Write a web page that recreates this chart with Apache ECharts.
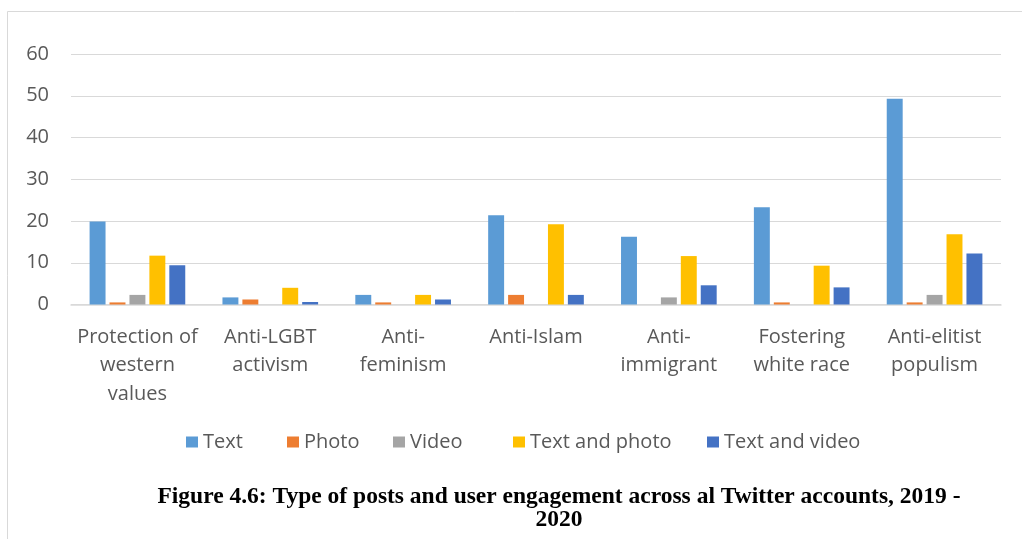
<!DOCTYPE html>
<html>
<head>
<meta charset="utf-8">
<script src="https://cdn.jsdelivr.net/npm/echarts@6/dist/echarts.min.js"></script>
<style>
  html, body { margin: 0; padding: 0; background: #ffffff; }
  #chart { width: 1022px; height: 539px; }
</style>
</head>
<body>
<div id="chart"></div>
<script>
// Themes of posts (x-axis), with manual line breaks for the wrapped labels
const categories = [
  'Protection of\nwestern\nvalues',
  'Anti-LGBT\nactivism',
  'Anti-\nfeminism',
  'Anti-Islam',
  'Anti-\nimmigrant',
  'Fostering\nwhite race',
  'Anti-elitist\npopulism'
];

// Share of posts by type, per theme
const textPosts         = [19.9, 1.7, 2.3, 21.4, 16.2, 23.3, 49.3];
const photoPosts        = [0.5, 1.2, 0.5, 2.3, 0, 0.5, 0.5];
const videoPosts        = [2.3, 0, 0, 0, 1.7, 0, 2.3];
const textAndPhotoPosts = [11.7, 4.0, 2.3, 19.2, 11.6, 9.3, 16.8];
const textAndVideoPosts = [9.4, 0.6, 1.2, 2.3, 4.6, 4.1, 12.2];

const seriesNames  = ['Text', 'Photo', 'Video', 'Text and photo', 'Text and video'];
const seriesValues = [textPosts, photoPosts, videoPosts, textAndPhotoPosts, textAndVideoPosts];
const seriesColors = ['#5B9BD5', '#ED7D31', '#A5A5A5', '#FFC000', '#4472C4'];

// Y-axis ticks
const yMin = 0, yMax = 60, yStep = 10;

const titleText = 'Figure 4.6: Type of posts and user engagement across al Twitter accounts, 2019 -\n2020';

const labelFont = '"Open Sans", Lato, sans-serif';
const labelColor = '#595959';
const legendLefts = [186, 287, 393, 513, 707];

const chart = echarts.init(document.getElementById('chart'), null, { renderer: 'canvas' });

chart.setOption({
  backgroundColor: '#ffffff',
  animation: false,
  title: {
    text: titleText,
    left: 559,
    top: 485,
    textAlign: 'center',
    padding: 0,
    textStyle: {
      fontFamily: '"Liberation Serif", "Times New Roman", serif',
      fontWeight: 'bold',
      fontSize: 23.5,
      lineHeight: 23,
      color: '#000000',
      align: 'center'
    }
  },
  legend: seriesNames.map((name, i) => ({
    data: [name],
    left: legendLefts[i],
    top: 432,
    padding: 0,
    itemWidth: 12,
    itemHeight: 11,
    icon: 'rect',
    selectedMode: false,
    textStyle: { fontFamily: labelFont, fontSize: 20, color: labelColor }
  })),
  grid: {
    left: 71,
    right: 21,
    top: 54,
    bottom: 234.5,
    containLabel: false
  },
  xAxis: {
    type: 'category',
    data: categories,
    axisLine: { lineStyle: { color: '#d9d9d9', width: 1.5 } },
    axisTick: { show: false },
    axisLabel: {
      interval: 0,
      margin: 18.5,
      fontFamily: labelFont,
      fontSize: 20,
      lineHeight: 28.5,
      color: labelColor
    }
  },
  yAxis: {
    type: 'value',
    min: yMin,
    max: yMax,
    interval: yStep,
    axisLine: { show: false },
    axisTick: { show: false },
    splitLine: { lineStyle: { color: '#d9d9d9', width: 1.2 } },
    axisLabel: {
      margin: 22,
      fontFamily: labelFont,
      fontSize: 20,
      color: labelColor
    }
  },
  series: seriesNames.map((name, i) => ({
    name: name,
    type: 'bar',
    data: seriesValues[i],
    itemStyle: { color: seriesColors[i] },
    barGap: '25%',
    barCategoryGap: '28%'
  })),
  graphic: [
    {
      type: 'polyline',
      shape: { points: [[7.5, 539], [7.5, 11.5], [1022, 11.5]] },
      style: { stroke: '#d9d9d9', lineWidth: 1, fill: null },
      silent: true
    }
  ]
});
</script>
</body>
</html>
